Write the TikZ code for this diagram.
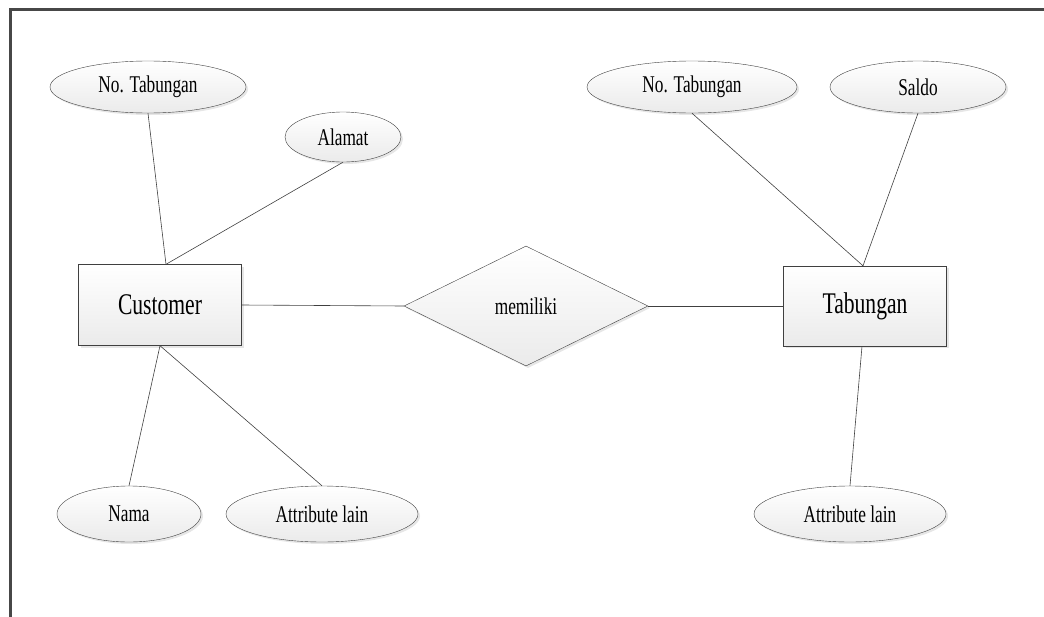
\documentclass[tikz,border=0pt]{standalone}
\usepackage{fontspec}
\setmainfont{Liberation Serif}[FakeStretch=0.72]
\usetikzlibrary{shapes.geometric, shadows}

\begin{document}
\begin{tikzpicture}[x=1pt, y=-1pt, thin,
    attr/.style={draw=black!75, ellipse, inner sep=0pt, top color=white, bottom color=black!8, drop shadow={shadow xshift=2pt, shadow yshift=-2pt, opacity=0.2}, font=\fontsize{24}{26}\selectfont},
    entity/.style={draw=black!75, rectangle, inner sep=0pt, top color=white, bottom color=black!8, drop shadow={shadow xshift=2pt, shadow yshift=-2pt, opacity=0.2}, font=\fontsize{30}{32}\selectfont},
    rel/.style={draw=black!75, diamond, inner sep=0pt, top color=white, bottom color=black!8, drop shadow={shadow xshift=2pt, shadow yshift=-2pt, opacity=0.2}, font=\fontsize{24}{26}\selectfont},
    link/.style={draw=black!75, line width=0.6pt}]
    \useasboundingbox (0,0) rectangle (1044,616);
    \draw[line width=3pt, black!72] (10.5,617) -- (10.5,9.5) -- (1045,9.5);

    % entitas Customer
    \node[entity, minimum width=163, minimum height=81] at (160, 305)   (cust) {Customer};
    \node[attr, minimum width=196, minimum height=52] at (148, 87)   (ntabA) {No. Tabungan};
    \node[attr, minimum width=116, minimum height=50] at (343, 137)   (alamat) {Alamat};
    \node[attr, minimum width=144, minimum height=56] at (129, 514)   (nama) {Nama};
    \node[attr, minimum width=192, minimum height=56] at (322, 514)   (attrA) {Attribute lain};

    % relasi
    \node[rel, minimum width=244, minimum height=120] at (526, 306)   (memiliki) {memiliki};

    % entitas Tabungan
    \node[entity, minimum width=163, minimum height=80] at (865, 306)   (tab) {Tabungan};
    \node[attr, minimum width=210, minimum height=52] at (692, 87)   (ntabB) {No. Tabungan};
    \node[attr, minimum width=176, minimum height=52] at (918, 87)   (saldo) {Saldo};
    \node[attr, minimum width=192, minimum height=56] at (850, 514)   (attrB) {Attribute lain};

    \draw[link] (ntabA.south) -- ([xshift=6pt]cust.north);
    \draw[link] (alamat.south) -- ([xshift=6pt]cust.north);
    \draw[link] (cust.south) -- (nama.north);
    \draw[link] (cust.south) -- (attrA.north);

    \draw[link] (cust.east) -- (memiliki.west);
    \draw[link] (memiliki.east) -- (tab.west);

    \draw[link] (ntabB.south) -- ([xshift=-2pt]tab.north);
    \draw[link] (saldo.south) -- ([xshift=-2pt]tab.north);
    \draw[link] ([xshift=-3pt]tab.south) -- (attrB.north);
%    \draw[link] (tab.south) -- (attrB);

\end{tikzpicture}
\end{document}
